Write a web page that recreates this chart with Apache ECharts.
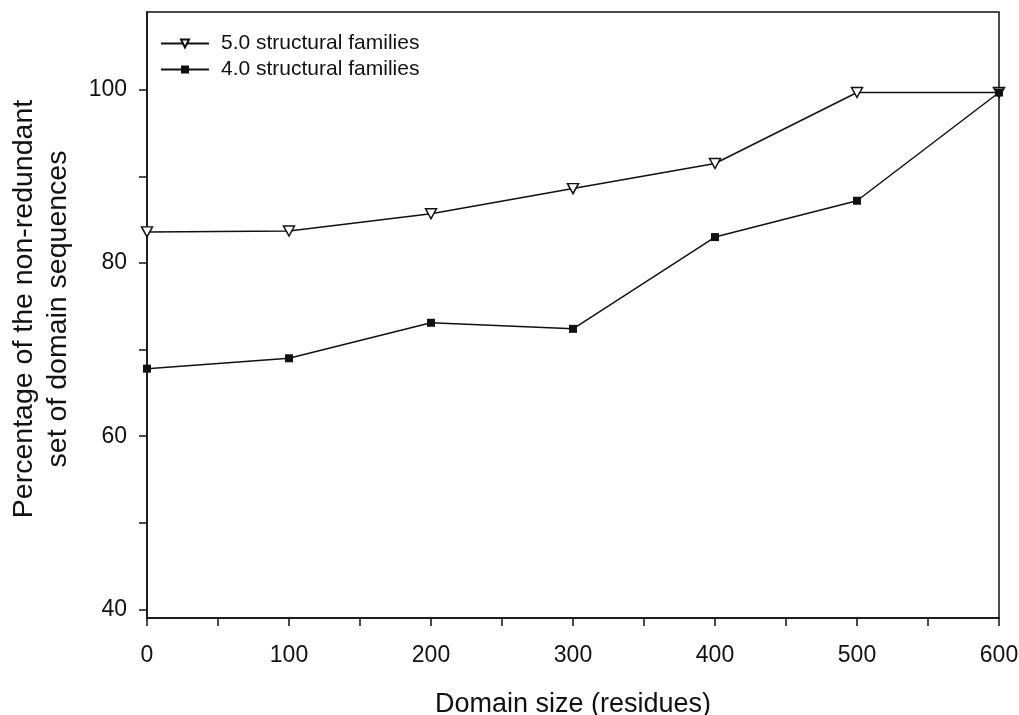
<!DOCTYPE html>
<html>
<head>
<meta charset="utf-8">
<script src="https://cdn.jsdelivr.net/npm/echarts@6/dist/echarts.min.js"></script>
<style>
  html, body { margin: 0; padding: 0; background: #fff; }
  #chart { width: 1019px; height: 715px; }
</style>
</head>
<body>
<div id="chart"></div>
<script>
// Domain size (residues)
const domainSizes = [0, 100, 200, 300, 400, 500, 600];
// Percentage of the non-redundant set covered
const families50 = [83.6, 83.7, 85.7, 88.6, 91.5, 99.7, 99.7];
const families40 = [67.8, 69.0, 73.1, 72.4, 83.0, 87.2, 99.7];
const seriesNames = ['5.0 structural families', '4.0 structural families'];

// Axis ticks and labels
const xTicks = [0, 50, 100, 150, 200, 250, 300, 350, 400, 450, 500, 550, 600];
const xLabels = [0, 100, 200, 300, 400, 500, 600];
const yTicks = [40, 50, 60, 70, 80, 90, 100];
const yLabels = [40, 60, 80, 100];

const FONT = 'Liberation Sans';
const INK = '#111';
const downTriangle = 'path://M0,0 L10,0 L5,9 Z';

const toPairs = (xs, ys) => xs.map((x, i) => [x, ys[i]]);

const chart = echarts.init(document.getElementById('chart'), null, { renderer: 'canvas' });
chart.setOption({
  backgroundColor: '#fff',
  animation: false,
  grid: {
    left: 147, right: 20, top: 12, bottom: 97,
    outerBoundsMode: 'none', containLabel: false,
    show: true, borderColor: INK, borderWidth: 1.5, backgroundColor: 'transparent'
  },
  legend: {
    left: 155, top: 28, orient: 'vertical',
    itemWidth: 48, itemHeight: 10, itemGap: 5,
    textStyle: { fontFamily: FONT, fontSize: 21, color: INK, padding: [0, 0, 0, 7] },
    data: seriesNames
  },
  xAxis: {
    type: 'value', min: 0, max: 600,
    name: 'Domain size (residues)', nameLocation: 'middle', nameGap: 73,
    nameTextStyle: { fontFamily: FONT, fontSize: 27, color: INK },
    axisLine: { show: true, lineStyle: { color: INK, width: 1.5 } },
    axisTick: { show: true, length: 8, customValues: xTicks, lineStyle: { color: INK, width: 1.5 } },
    axisLabel: { customValues: xLabels, margin: 26, fontFamily: FONT, fontSize: 23, color: INK },
    splitLine: { show: false }
  },
  yAxis: {
    type: 'value', min: 39, max: 109,
    name: 'Percentage of the non-redundant\nset of domain sequences',
    nameLocation: 'middle', nameGap: 72,
    nameTextStyle: { fontFamily: FONT, fontSize: 28.5, color: INK, lineHeight: 34, padding: [0, 0, 0, 12] },
    axisLine: { show: true, lineStyle: { color: INK, width: 1.5 } },
    axisTick: { show: true, length: 8, customValues: yTicks, lineStyle: { color: INK, width: 1.5 } },
    axisLabel: { customValues: yLabels, margin: 20, fontFamily: FONT, fontSize: 23, color: INK },
    splitLine: { show: false }
  },
  series: [
    {
      name: seriesNames[0], type: 'line', data: toPairs(domainSizes, families50),
      symbol: downTriangle, symbolSize: [11, 10], showAllSymbol: true,
      lineStyle: { color: INK, width: 1.5 },
      itemStyle: { color: '#fff', borderColor: INK, borderWidth: 1.5 },
      z: 2
    },
    {
      name: seriesNames[1], type: 'line', data: toPairs(domainSizes, families40),
      symbol: 'rect', symbolSize: 8, showAllSymbol: true,
      lineStyle: { color: INK, width: 1.5 },
      itemStyle: { color: INK, borderColor: INK, borderWidth: 0 },
      z: 3
    }
  ]
});
</script>
</body>
</html>
